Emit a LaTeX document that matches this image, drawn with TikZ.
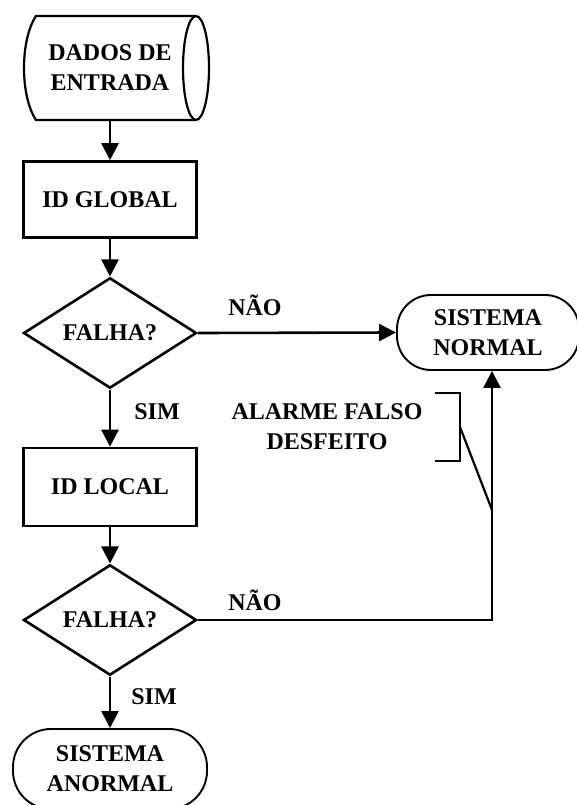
\documentclass[tikz,border=0pt]{standalone}
\usepackage{fontspec}
\setmainfont{Liberation Serif}
\usetikzlibrary{shapes.geometric,arrows.meta}
\begin{document}
\begin{tikzpicture}[x=1pt,y=-1pt,
  every node/.style={font=\bfseries\fontsize{24}{30}\selectfont, align=center, inner sep=0pt},
  procbox/.style={draw, line width=2.6pt, rectangle, minimum width=173pt, minimum height=76pt},
  decis/.style={draw, line width=2.6pt, diamond, minimum width=173pt, minimum height=101pt},
  term/.style={draw, line width=1.9pt, rectangle, rounded corners=34pt},
  lbl/.style={},
  conn/.style={line width=2.6pt},
  arr/.style={conn, -{Triangle[length=17pt,width=17pt]}}]
\useasboundingbox (0,0) rectangle (576,805);
% input data (cylinder-like)
\node (dados) [minimum width=174pt, minimum height=104pt] at (110,68) {DADOS DE\\ENTRADA};
\draw[line width=2.2pt] (196,16) -- (36,16) .. controls (20,40) and (20,96) .. (36,120) -- (196,120);
\draw[line width=2.2pt] (196,68) ellipse [x radius=13, y radius=52];
% boxes
\node (glob) [procbox] at (110,199.5) {ID GLOBAL};
\node (d1) [decis] at (110,333) {FALHA?};
\node (normal) [term, minimum width=182pt, minimum height=75pt] at (488,332.5) {SISTEMA\\NORMAL};
\node (loc) [procbox, minimum height=78pt] at (110,487) {ID LOCAL};
\node (d2) [decis] at (110,620) {FALHA?};
\node (anormal) [term, rounded corners=38pt, minimum width=194pt, minimum height=80pt] at (110,769) {SISTEMA\\ANORMAL};
% labels
\node (nao1) [lbl] at (255,305) {NÃO};
\node (nao2) [lbl] at (255,600) {NÃO};
\node (sim1) [lbl] at (157,412) {SIM};
\node (sim2) [lbl] at (154,697) {SIM};
\node (alarme) [lbl] at (327,427) {ALARME FALSO\\DESFEITO};
% connectors
\draw[arr] (dados.south) -- (glob.north);
\draw[arr] (glob.south) -- (d1.north);
\draw[arr] (d1.east) -- (normal.west);
\draw[arr] (d1.south) -- (loc.north);
\draw[arr] (loc.south) -- (d2.north);
\draw[arr] (d2.south) -- (anormal.north);
\coordinate (corner) at (492,620);
\draw[arr] (d2.east) -- (corner) -- (corner |- normal.south);
% annotation bracket
\coordinate (tip) at (492,510);
\draw[line width=2.2pt] (435,393) -- (460,393) -- (460,461) -- (435,461);
\draw[line width=2.2pt] (460,427) -- (tip);
\end{tikzpicture}
\end{document}
